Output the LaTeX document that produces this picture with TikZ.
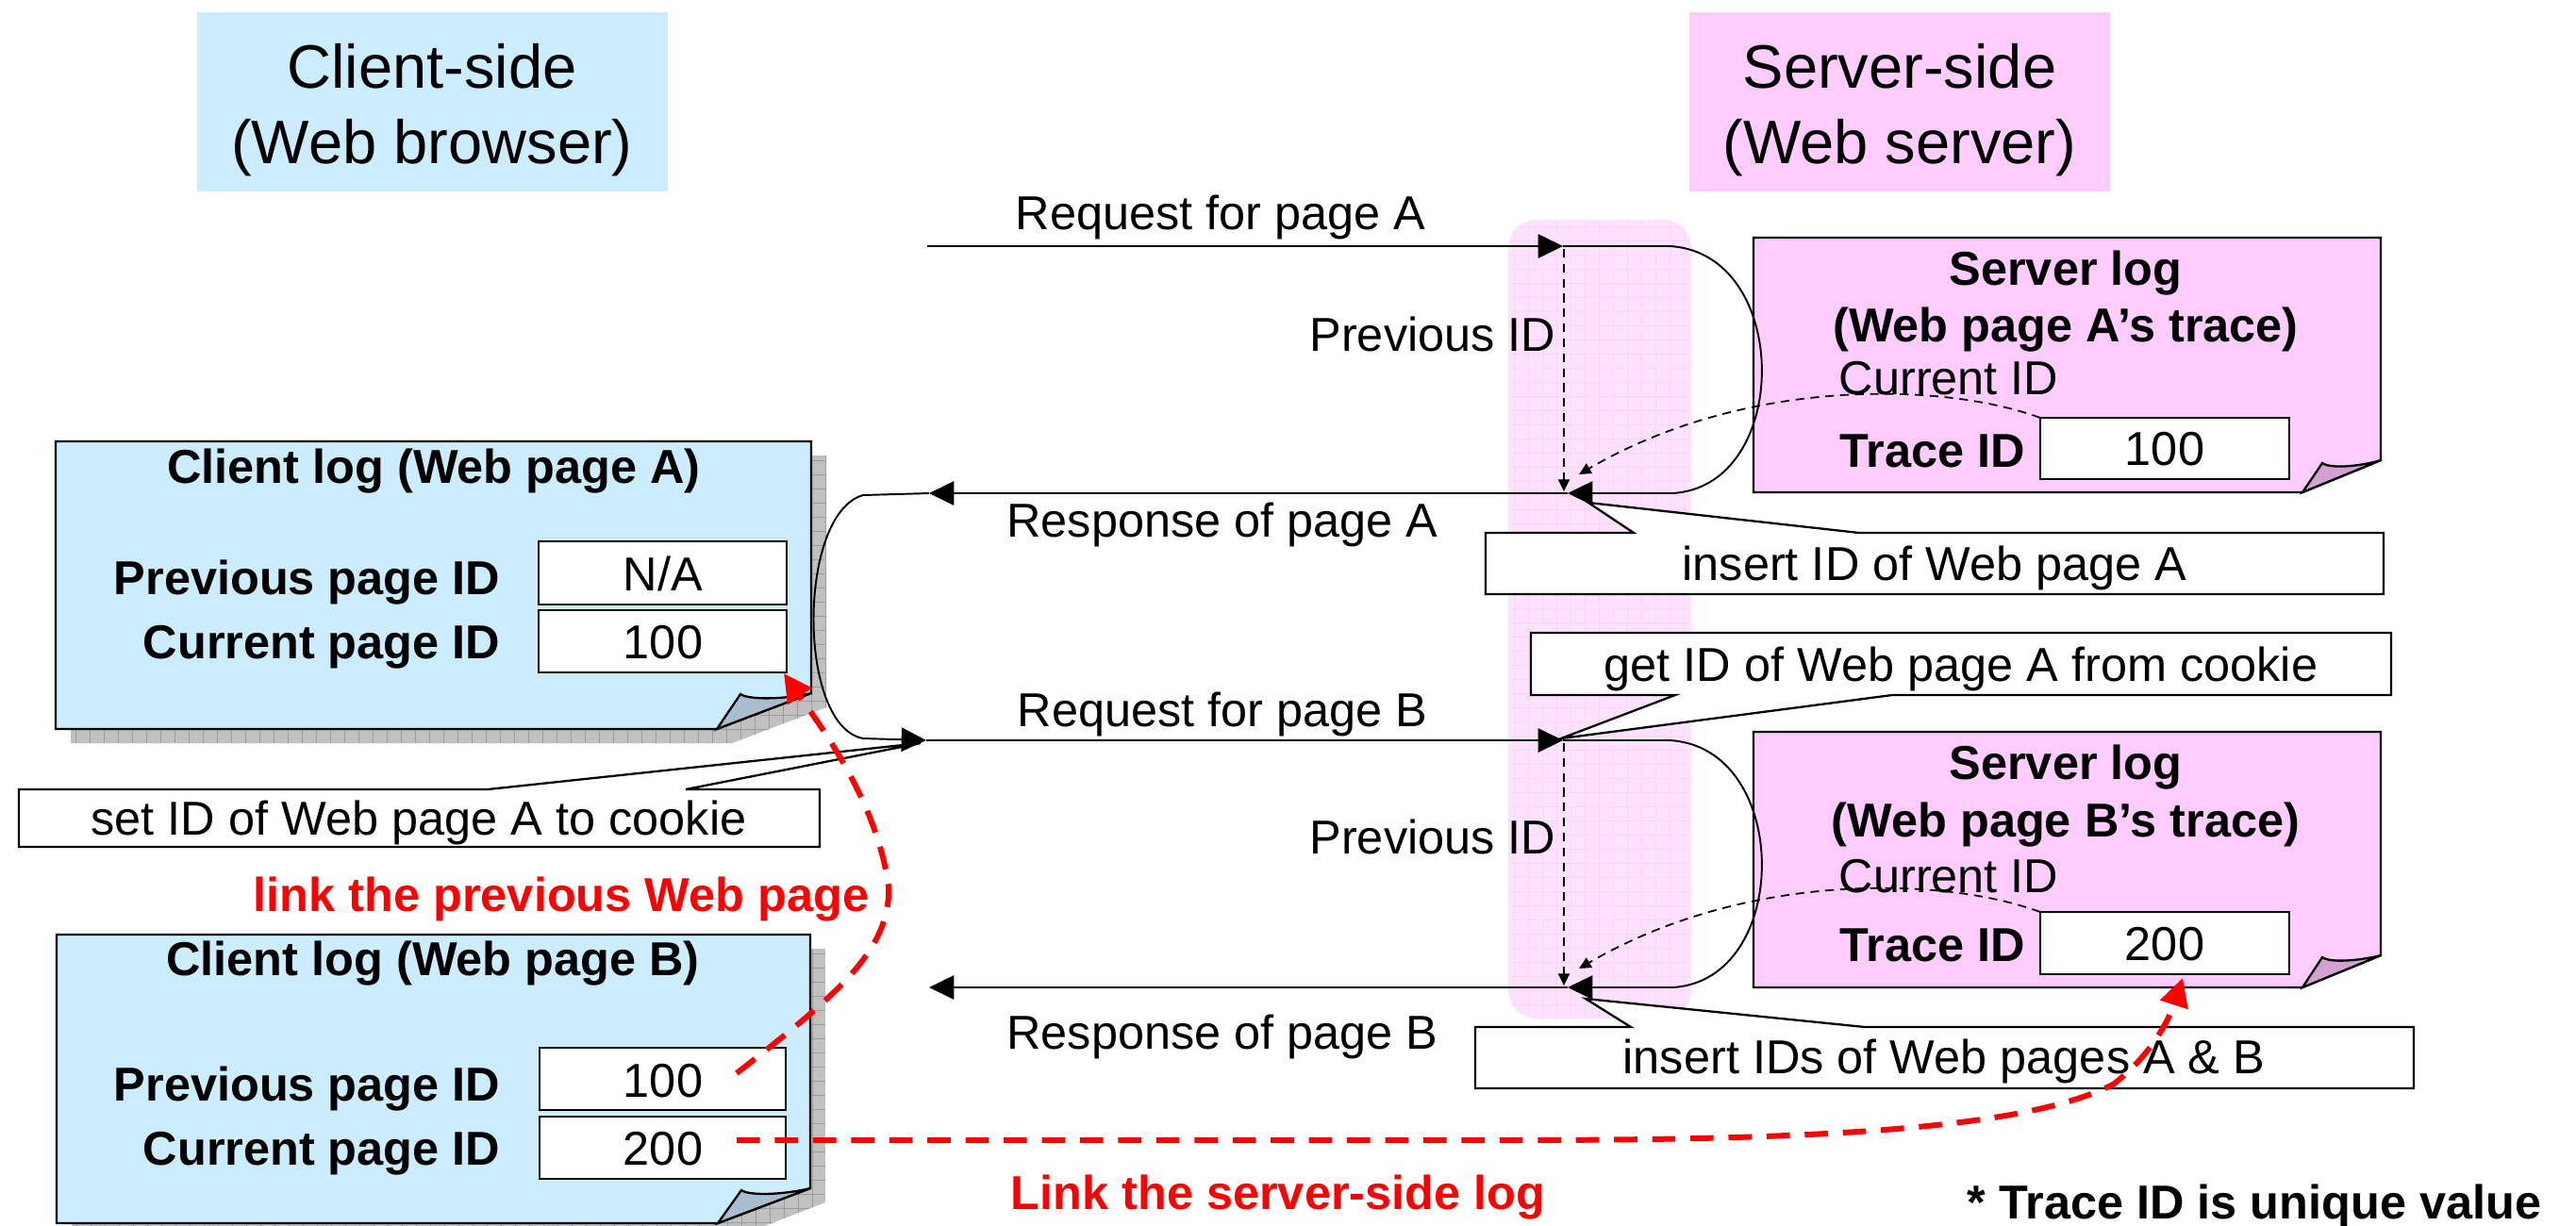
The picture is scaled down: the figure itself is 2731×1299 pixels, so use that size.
\documentclass[tikz,border=0pt]{standalone}
\usepackage{fontspec}
\setmainfont{Liberation Sans}
\usetikzlibrary{arrows.meta}
\definecolor{clientfill}{RGB}{204,236,255}
\definecolor{serverfill}{RGB}{255,204,255}
\definecolor{bandfill}{RGB}{255,226,255}
\definecolor{bandgrid}{RGB}{250,212,250}
\definecolor{shadowfill}{RGB}{192,192,192}
\definecolor{shadowgrid}{RGB}{155,155,155}
\definecolor{foldblue}{RGB}{168,190,208}
\definecolor{foldpink}{RGB}{210,162,210}
\definecolor{linkred}{RGB}{255,0,0}
\begin{document}
\begin{tikzpicture}[x=0.01cm,y=-0.01cm,
  lbl/.style={inner sep=0pt,font=\fontsize{14.35pt}{17pt}\selectfont},
  lblb/.style={inner sep=0pt,font=\fontsize{14.35pt}{17pt}\selectfont\bfseries},
  lblh/.style={inner sep=0pt,font=\fontsize{18.5pt}{22pt}\selectfont},
  lblr/.style={inner sep=0pt,font=\fontsize{14.35pt}{17pt}\selectfont\bfseries,text=linkred},
  notebox/.style={draw=black,line width=0.65pt,line join=miter},
  valbox/.style={draw=black,line width=0.65pt,fill=white},
  conn/.style={line width=0.55pt},
  bigtip/.style={-{Triangle[length=7.5pt,width=7.2pt]}},
  dashconn/.style={line width=0.5pt,dash pattern=on 2.6pt off 1.9pt,-{Triangle[length=3.6pt,width=3.4pt]}},
  redconn/.style={line width=1.7pt,draw=linkred,dash pattern=on 7pt off 4.5pt,-{Triangle[length=8.5pt,width=8.5pt]}},
  sgrid/.style={draw=shadowgrid,line width=0.25pt},
  bgrid/.style={draw=bandgrid,line width=0.25pt}]
\useasboundingbox (0,0) rectangle (2731,1299);

% ---------- headers ----------
\fill[clientfill] (209,13) rectangle (708,203);
\node[lblh,anchor=base] (chdra) at (458,93) {Client-side};
\node[lblh,anchor=base] (chdrb) at (458,173) {(Web browser)};
\fill[serverfill] (1791,13) rectangle (2237,203);
\node[lblh,anchor=base] (shdra) at (2014,93) {Server-side};
\node[lblh,anchor=base] (shdrb) at (2014,173) {(Web server)};

% ---------- server band ----------
\begin{scope}
\clip[rounded corners=8.5pt] (1599,233) rectangle (1793,1080);
\fill[bandfill] (1599,233) rectangle (1793,1080);
\foreach \x in {1605,1620,...,1793} \draw[bgrid] (\x,233) -- (\x,1080);
\foreach \y in {240,255,...,1080} \draw[bgrid] (1599,\y) -- (1793,\y);
\end{scope}

% ---------- client log A ----------
\begin{scope}
\clip (75,483) -- (876,483) -- (876,750) -- (776,788) -- (75,788) -- cycle;
\fill[shadowfill] (75,483) rectangle (876,788);
\foreach \x in {80,95,...,876} \draw[sgrid] (\x,483) -- (\x,788);
\foreach \y in {488,503,...,788} \draw[sgrid] (75,\y) -- (876,\y);
\end{scope}
\draw[notebox,fill=clientfill] (59,468) -- (860,468) -- (860,735) -- (760,773) -- (59,773) -- cycle;
\draw[notebox,fill=foldblue] (760,773) -- (785,736) .. controls (793,742) and (830,742) .. (860,735) -- cycle;
\node[lblb,anchor=base] (cta) at (460,512) {Client log (Web page A)};
\node[lblb,anchor=base east] (cpa) at (531,630) {Previous page ID};
\node[lblb,anchor=base east] (cca) at (531,698) {Current page ID};
\draw[valbox] (571,574) rectangle (834,641);
\node[lbl,anchor=base] (vpa) at (703,626) {N/A};
\draw[valbox] (571,647) rectangle (834,713);
\node[lbl,anchor=base] (vca) at (703,698) {100};

% ---------- client log B ----------
\begin{scope}
\clip (76,1006) -- (875,1006) -- (875,1275) -- (777,1313) -- (76,1313) -- cycle;
\fill[shadowfill] (76,1006) rectangle (875,1313);
\foreach \x in {81,96,...,875} \draw[sgrid] (\x,1006) -- (\x,1313);
\foreach \y in {1011,1026,...,1313} \draw[sgrid] (76,\y) -- (875,\y);
\end{scope}
\draw[notebox,fill=clientfill] (60,991) -- (859,991) -- (859,1260) -- (761,1297) -- (60,1297) -- cycle;
\draw[notebox,fill=foldblue] (761,1297) -- (786,1262) .. controls (794,1268) and (830,1267) .. (859,1260) -- cycle;
\node[lblb,anchor=base] (ctb) at (459,1034) {Client log (Web page B)};
\node[lblb,anchor=base east] (cpb) at (531,1167) {Previous page ID};
\node[lblb,anchor=base east] (ccb) at (531,1235) {Current page ID};
\draw[valbox] (572,1111) rectangle (833,1177);
\node[lbl,anchor=base] (vpb) at (703,1163) {100};
\draw[valbox] (572,1184) rectangle (833,1250);
\node[lbl,anchor=base] (vcb) at (703,1235) {200};

% ---------- server log A ----------
\draw[notebox,fill=serverfill] (1859,252) -- (2524,252) -- (2524,488) -- (2441,522) -- (1859,522) -- cycle;
\draw[notebox,fill=foldpink] (2441,522) -- (2462,491) .. controls (2470,497) and (2500,495) .. (2524,488) -- cycle;
\node[lblb,anchor=base] (sta) at (2190,302) {Server log};
\node[lblb,anchor=base] (stb) at (2190,362) {(Web page A’s trace)};
\node[lbl,anchor=base west] (scia) at (1949,418) {Current ID};
\node[lblb,anchor=base west] (stia) at (1950,495) {Trace ID};
\draw[valbox] (2163,443) rectangle (2427,508);
\node[lbl,anchor=base] (stva) at (2295,493) {100};
\coordinate (tracea) at (2163,443);

% ---------- server log B ----------
\draw[notebox,fill=serverfill] (1859,776) -- (2524,776) -- (2524,1013) -- (2441,1047) -- (1859,1047) -- cycle;
\draw[notebox,fill=foldpink] (2441,1047) -- (2462,1015) .. controls (2470,1021) and (2500,1019) .. (2524,1013) -- cycle;
\node[lblb,anchor=base] (stc) at (2190,826) {Server log};
\node[lblb,anchor=base] (std) at (2190,887) {(Web page B’s trace)};
\node[lbl,anchor=base west] (scib) at (1949,946) {Current ID};
\node[lblb,anchor=base west] (stib) at (1950,1019) {Trace ID};
\draw[valbox] (2163,967) rectangle (2427,1033);
\node[lbl,anchor=base] (stvb) at (2295,1018) {200};
\coordinate (traceb) at (2163,967);

% ---------- callouts ----------
\draw[notebox,fill=white] (20,837) -- (517,837) -- (976,788) -- (727,837) -- (869,837) -- (869,898) -- (20,898) -- cycle;
\node[lbl,anchor=base] (setid) at (444,885) {set ID of Web page A to cookie};
\draw[notebox,fill=white] (1575,565) -- (1732,565) -- (1684,533) -- (1971,565) -- (2527,565) -- (2527,630) -- (1575,630) -- cycle;
\node[lbl,anchor=base] (insa) at (2051,615) {insert ID of Web page A};
\draw[notebox,fill=white] (1623,671) -- (2535,671) -- (2535,737) -- (2006,737) -- (1655,783) -- (1776,737) -- (1623,737) -- cycle;
\node[lbl,anchor=base] (getid) at (2079,722) {get ID of Web page A from cookie};
\draw[notebox,fill=white] (1564,1089) -- (1729,1089) -- (1681,1059) -- (1977,1089) -- (2559,1089) -- (2559,1154) -- (1564,1154) -- cycle;
\node[lbl,anchor=base] (insb) at (2061,1138) {insert IDs of Web pages A \& B};

% ---------- connectors ----------
\coordinate (reqas) at (983,261);
\coordinate (reqae) at (1657,261);
\coordinate (respas) at (1662,523);
\coordinate (respae) at (985,523);
\coordinate (reqbs) at (982,785);
\coordinate (reqbe) at (1657,785);
\coordinate (respbs) at (1662,1047);
\coordinate (respbe) at (985,1047);

\draw[conn,bigtip] (reqas) -- (reqae);
\draw[conn,bigtip] (reqae) -- (1770,261) .. controls (1900,268) and (1900,516) .. (1773,523) -- (respas);
\draw[conn,bigtip] (respas) -- (respae);
\draw[conn,bigtip] (respae) -- (915,525) .. controls (845,545) and (845,770) .. (915,783) -- (reqbs);
\draw[conn,bigtip] (reqbs) -- (reqbe);
\draw[conn,bigtip] (reqbe) -- (1770,785) .. controls (1900,792) and (1900,1040) .. (1773,1047) -- (respbs);
\draw[conn,bigtip] (respbs) -- (respbe);

\draw[dashconn] (1658,264) -- (1658,521);
\draw[dashconn] (tracea) .. controls (2060,405) and (1850,400) .. (1674,503);
\draw[dashconn] (1658,788) -- (1658,1045);
\draw[dashconn] (traceb) .. controls (2060,929) and (1850,924) .. (1674,1027);

% ---------- connector labels ----------
\node[lbl,anchor=base] (lreqa) at (1294,243) {Request for page A};
\node[lbl,anchor=base east] (lpida) at (1650,372) {Previous ID};
\node[lbl,anchor=base] (lrespa) at (1296,569) {Response of page A};
\node[lbl,anchor=base] (lreqb) at (1296,770) {Request for page B};
\node[lbl,anchor=base east] (lpidb) at (1650,905) {Previous ID};
\node[lbl,anchor=base] (lrespb) at (1296,1112) {Response of page B};

% ---------- red links ----------
\coordinate (rpstart) at (781,1138);
\coordinate (rpend) at (831,714);
\draw[redconn] (rpstart) .. controls (880,1060) and (945,1010) .. (942,940) .. controls (930,850) and (870,770) .. (rpend);
\coordinate (rsstart) at (781,1209);
\coordinate (rsend) at (2314,1037);
\draw[redconn] (rsstart) -- (1600,1209) .. controls (1950,1209) and (2150,1195) .. (2240,1150) .. controls (2280,1120) and (2300,1080) .. (rsend);
\node[lblr,anchor=base] (lprev) at (595,966) {link the previous Web page};
\node[lblr,anchor=base] (lsrv) at (1355,1282) {Link the server-side log};

% ---------- footnote ----------
\node[lblb,anchor=base] (foot) at (2390,1292) {* Trace ID is unique value};
\end{tikzpicture}
\end{document}
